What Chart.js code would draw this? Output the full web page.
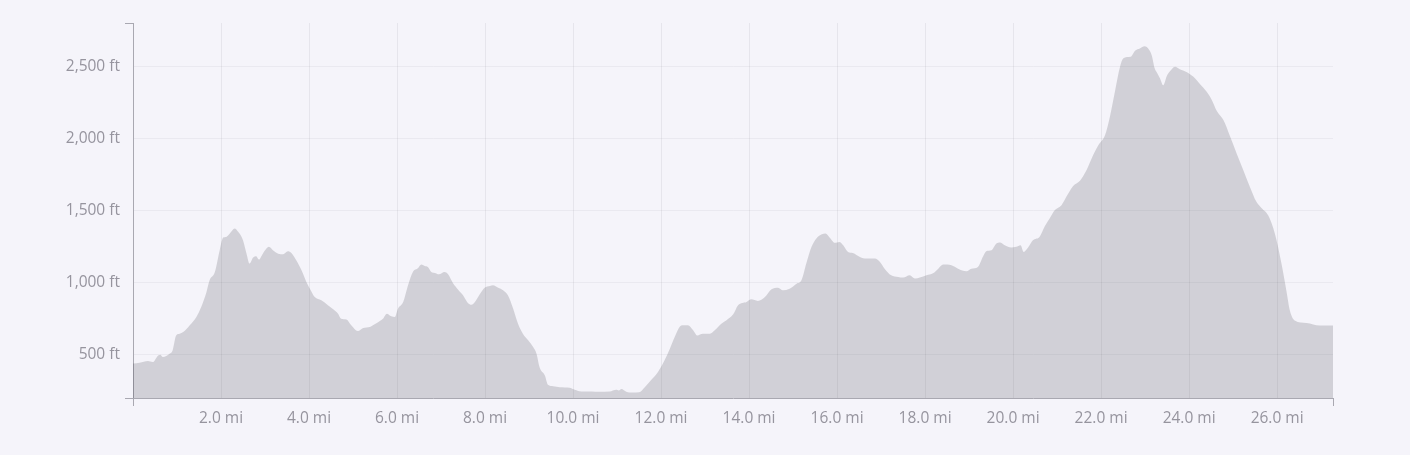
<!DOCTYPE html>
<html>
<head>
<meta charset="utf-8">
<script src="https://cdn.jsdelivr.net/npm/chart.js@4/dist/chart.umd.min.js"></script>
<style>
  html, body { margin: 0; padding: 0; background: #f5f4fa; }
  #wrap { width: 1410px; height: 455px; }
</style>
</head>
<body>
<div id="wrap"><canvas id="c" width="1410" height="455"></canvas></div>
<script>
// Distance along route (miles)
const distanceMi = [
  0, 0.15, 0.34, 0.45, 0.57, 0.62, 0.68, 0.83, 0.9, 0.98, 1.06, 1.14, 1.29, 1.44, 1.55, 1.67, 1.74, 1.86, 1.97,
  2.05, 2.12, 2.2, 2.31, 2.39, 2.5, 2.58, 2.65, 2.73, 2.8, 2.86, 2.95, 3.09, 3.18, 3.3, 3.41, 3.52, 3.6, 3.71, 3.83, 3.94,
  4.02, 4.13, 4.28, 4.43, 4.55, 4.66, 4.73, 4.85, 4.96, 5.11, 5.23, 5.38, 5.49, 5.61, 5.68, 5.77, 5.87, 5.95,
  6.02, 6.14, 6.25, 6.36, 6.48, 6.55, 6.63, 6.7, 6.78, 6.86, 6.95, 7.08, 7.16, 7.27, 7.39, 7.5, 7.61, 7.69, 7.77, 7.88, 7.99,
  8.11, 8.18, 8.3, 8.41, 8.52, 8.64, 8.75, 8.86, 8.98, 9.09, 9.17, 9.24, 9.36, 9.43, 9.55, 9.7, 9.92,
  10.04, 10.19, 10.42, 10.6, 10.83, 10.98, 11.04, 11.1, 11.21, 11.36, 11.5, 11.63, 11.78, 11.93,
  12.08, 12.2, 12.31, 12.42, 12.5, 12.61, 12.73, 12.82, 12.95, 13.11, 13.22, 13.37, 13.48, 13.64, 13.75, 13.94,
  14.05, 14.2, 14.36, 14.51, 14.66, 14.77, 14.92, 15.08, 15.19, 15.3, 15.42, 15.53, 15.64, 15.74, 15.83, 15.95,
  16.05, 16.14, 16.25, 16.36, 16.52, 16.67, 16.86, 16.97, 17.08, 17.23, 17.39, 17.5, 17.65, 17.77, 17.88,
  18.03, 18.18, 18.3, 18.41, 18.6, 18.75, 18.94, 19.05, 19.2, 19.32, 19.39, 19.51, 19.62, 19.7, 19.81, 19.96,
  20.07, 20.17, 20.24, 20.34, 20.45, 20.6, 20.72, 20.83, 20.95, 21.1, 21.21, 21.36, 21.52, 21.67, 21.82, 21.94,
  22.09, 22.2, 22.32, 22.43, 22.5, 22.62, 22.69, 22.77, 22.88, 22.99, 23.07, 23.15, 23.22, 23.28, 23.34, 23.41,
  23.5, 23.6, 23.68, 23.79, 23.94, 24.1, 24.25, 24.4, 24.51, 24.63, 24.78, 24.93, 25.08, 25.23, 25.38, 25.53,
  25.65, 25.8, 25.95, 26.1, 26.21, 26.29, 26.4, 26.67, 26.97, 27.27
];
// Elevation (feet)
const elevationFt = [
  440, 445, 456, 449, 495, 500, 484, 507, 530, 634, 646, 657, 704, 762, 831, 935, 1016, 1074, 1225,
  1312, 1317, 1340, 1375, 1352, 1294, 1201, 1132, 1174, 1183, 1160, 1201, 1248, 1225, 1201, 1197, 1218, 1206, 1155, 1086, 1005,
  958, 900, 877, 843, 815, 785, 750, 745, 704, 664, 685, 692, 711, 734, 750, 785, 766, 762,
  819, 866, 982, 1074, 1102, 1125, 1116, 1109, 1074, 1067, 1058, 1074, 1058, 998, 951, 912, 859, 847, 866, 919, 965,
  977, 982, 965, 947, 912, 819, 715, 646, 600, 555, 507, 414, 356, 292, 282, 275, 271,
  257, 245, 245, 243, 245, 257, 252, 262, 243, 238, 240, 275, 326, 380,
  461, 542, 623, 692, 704, 704, 669, 634, 646, 646, 669, 715, 738, 780, 843, 866,
  884, 873, 900, 954, 965, 947, 958, 993, 1016, 1132, 1248, 1306, 1333, 1340, 1313, 1276,
  1282, 1259, 1213, 1206, 1178, 1167, 1167, 1144, 1097, 1051, 1039, 1035, 1051, 1028, 1035,
  1051, 1065, 1097, 1125, 1120, 1097, 1079, 1097, 1109, 1183, 1218, 1225, 1271, 1278, 1259, 1243,
  1248, 1259, 1213, 1243, 1294, 1317, 1391, 1445, 1503, 1537, 1595, 1669, 1706, 1780, 1884, 1954,
  2023, 2150, 2334, 2496, 2554, 2565, 2570, 2607, 2623, 2639, 2623, 2577, 2484, 2450, 2415, 2369,
  2438, 2478, 2496, 2480, 2461, 2427, 2375, 2323, 2270, 2190, 2127, 2015, 1896, 1781, 1665, 1560,
  1516, 1465, 1339, 1131, 946, 807, 738, 720, 703, 703
];
// Axis ticks
const xTickValues = [0, 2, 4, 6, 8, 10, 12, 14, 16, 18, 20, 22, 24, 26, 27.27];
const yTickValues = [200, 500, 1000, 1500, 2000, 2500, 2800];

const AXIS_COLOR = '#a9a8b1';
const LABEL_COLOR = '#96949e';
const FONT = { family: "'Open Sans', 'Noto Sans', sans-serif", size: 15.5 };

const points = distanceMi.map((d, i) => ({ x: d, y: elevationFt[i] }));
const isEnd = (ctx, n) => ctx.index === 0 || ctx.index === n - 1;

new Chart(document.getElementById('c'), {
  type: 'line',
  data: {
    datasets: [{
      data: points,
      fill: 'start',
      backgroundColor: 'rgba(0,0,12,0.145)',
      borderWidth: 0,
      borderColor: 'rgba(0,0,0,0)',
      pointRadius: 0,
      pointHoverRadius: 0,
      cubicInterpolationMode: 'monotone'
    }]
  },
  options: {
    responsive: false,
    animation: false,
    devicePixelRatio: 1,
    layout: { padding: { top: 23, right: 77, left: 0, bottom: 0 } },
    plugins: { legend: { display: false }, tooltip: { enabled: false } },
    scales: {
      x: {
        type: 'linear',
        min: xTickValues[0],
        max: xTickValues[xTickValues.length - 1],
        afterBuildTicks: (s) => { s.ticks = xTickValues.map(v => ({ value: v })); },
        afterFit: (s) => { s.height = 57; s.paddingLeft = 0; s.paddingRight = 0; },
        border: { color: AXIS_COLOR, width: 1 },
        grid: {
          color: (ctx) => isEnd(ctx, xTickValues.length) ? 'rgba(0,0,0,0)' : 'rgba(0,0,20,0.06)',
          tickColor: (ctx) => isEnd(ctx, xTickValues.length) ? AXIS_COLOR : 'rgba(0,0,0,0)',
          tickLength: 8,
          lineWidth: 1
        },
        ticks: {
          autoSkip: false,
          maxRotation: 0,
          padding: 3,
          color: LABEL_COLOR,
          font: FONT,
          callback: (v, i) => (i === 0 || i === xTickValues.length - 1) ? '' : Number(v).toFixed(1) + ' mi'
        }
      },
      y: {
        type: 'linear',
        min: yTickValues[0],
        max: yTickValues[yTickValues.length - 1],
        afterBuildTicks: (s) => { s.ticks = yTickValues.map(v => ({ value: v })); },
        afterFit: (s) => { s.width = 133; s.paddingTop = 0; s.paddingBottom = 0; },
        border: { color: AXIS_COLOR, width: 1 },
        grid: {
          color: (ctx) => isEnd(ctx, yTickValues.length) ? 'rgba(0,0,0,0)' : 'rgba(0,0,20,0.045)',
          tickColor: (ctx) => isEnd(ctx, yTickValues.length) ? AXIS_COLOR : 'rgba(0,0,0,0)',
          tickLength: 8,
          lineWidth: 1
        },
        ticks: {
          autoSkip: false,
          padding: 5,
          color: LABEL_COLOR,
          font: FONT,
          callback: (v, i) => (i === 0 || i === yTickValues.length - 1) ? '' : new Intl.NumberFormat('en-US').format(v) + ' ft'
        }
      }
    }
  }
});
</script>
</body>
</html>
